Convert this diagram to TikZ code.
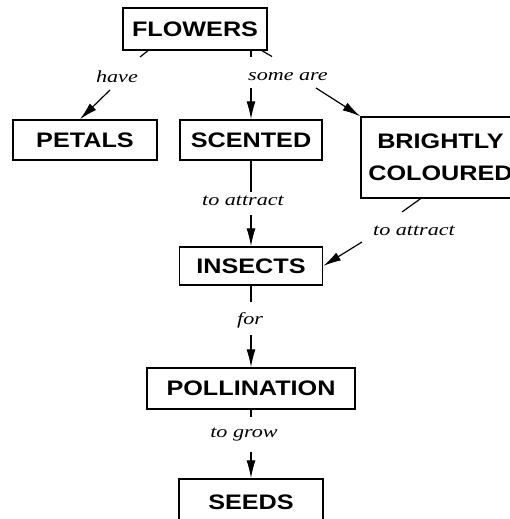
\documentclass[tikz,border=0pt]{standalone}
\usepackage{fontspec}
\setmainfont{Liberation Serif}
\newfontfamily\boxfont{Liberation Sans}[FakeStretch=1.2]
\newfontfamily\linkfont{Liberation Serif}[FakeStretch=1.3]
\usetikzlibrary{arrows.meta,positioning}

\tikzset{
  concept/.style={draw,line width=1.4pt,inner sep=0pt,align=center,
    font=\boxfont\bfseries\fontsize{21}{32}\selectfont},
  linklabel/.style={inner sep=1pt,font=\linkfont\itshape\fontsize{17}{19}\selectfont},
  conn/.style={line width=1.2pt},
  arr/.style={conn,-{Latex[length=18pt,width=9pt]}}
}

\begin{document}
\begin{tikzpicture}[x=1pt,y=-1pt]
\useasboundingbox (0,0) rectangle (509,519);

% Concepts
\node[concept,minimum width=144pt,minimum height=42pt] (flowers) at (195,29) {FLOWERS};
\node[concept,minimum width=144pt,minimum height=40pt] (petals) at (85,140) {PETALS};
\node[concept,minimum width=142pt,minimum height=40pt] (scented) at (251,140) {SCENTED};
\node[concept,minimum width=159pt,minimum height=81pt] (bright) at (440.5,157.5) {BRIGHTLY\\COLOURED};
\node[concept,minimum width=143pt,minimum height=38pt] (insects) at (251,266) {INSECTS};
\node[concept,minimum width=208pt,minimum height=41pt] (pollination) at (251,388.5) {POLLINATION};
\node[concept,minimum width=144pt,minimum height=46pt] (seeds) at (251,502) {SEEDS};

% Link words
\node[linklabel] (have) at (117,77) {have};
\node[linklabel] (someare) at (288,77) {some are};
\node[linklabel] (attract1) at (243,201) {to attract};
\node[linklabel] (attract2) at (414,231) {to attract};
\node[linklabel] (for) at (250,320) {for};
\node[linklabel] (grow) at (244,435) {to grow};

% Break points round the link words
\coordinate (fp1) at (140,57);
\coordinate (fp2) at (110,90);
\coordinate (fs1) at (251,57);
\coordinate (fs2) at (251,88);
\coordinate (fb1) at (272,56.5);
\coordinate (fb2) at (316,88);
\coordinate (si1) at (251,192);
\coordinate (si2) at (251,215);
\coordinate (bi1) at (402,212);
\coordinate (bi2) at (362,242);
\coordinate (ip1) at (251,302);
\coordinate (ip2) at (251,335);
\coordinate (ps1) at (251,417);
\coordinate (ps2) at (251,452);

% Connectors
\draw[conn] ([xshift=-47pt]flowers.south) -- (fp1);
\draw[arr] (fp2) -- ([xshift=-5pt]petals.north);
\draw[conn] (flowers.south -| scented) -- (fs1);
\draw[arr] (fs2) -- (scented);
\draw[conn] ([xshift=67pt]flowers.south) -- (fb1);
\draw[arr] (fb2) -- (bright.north west);
\draw[conn] (scented) -- (si1);
\draw[arr] (si2) -- (insects);
\draw[conn] ([xshift=-20pt]bright.south) -- (bi1);
\draw[arr] (bi2) -- (insects.east);
\draw[conn] (insects) -- (ip1);
\draw[arr] (ip2) -- (pollination);
\draw[conn] (pollination) -- (ps1);
\draw[arr] (ps2) -- (seeds);
\end{tikzpicture}
\end{document}
